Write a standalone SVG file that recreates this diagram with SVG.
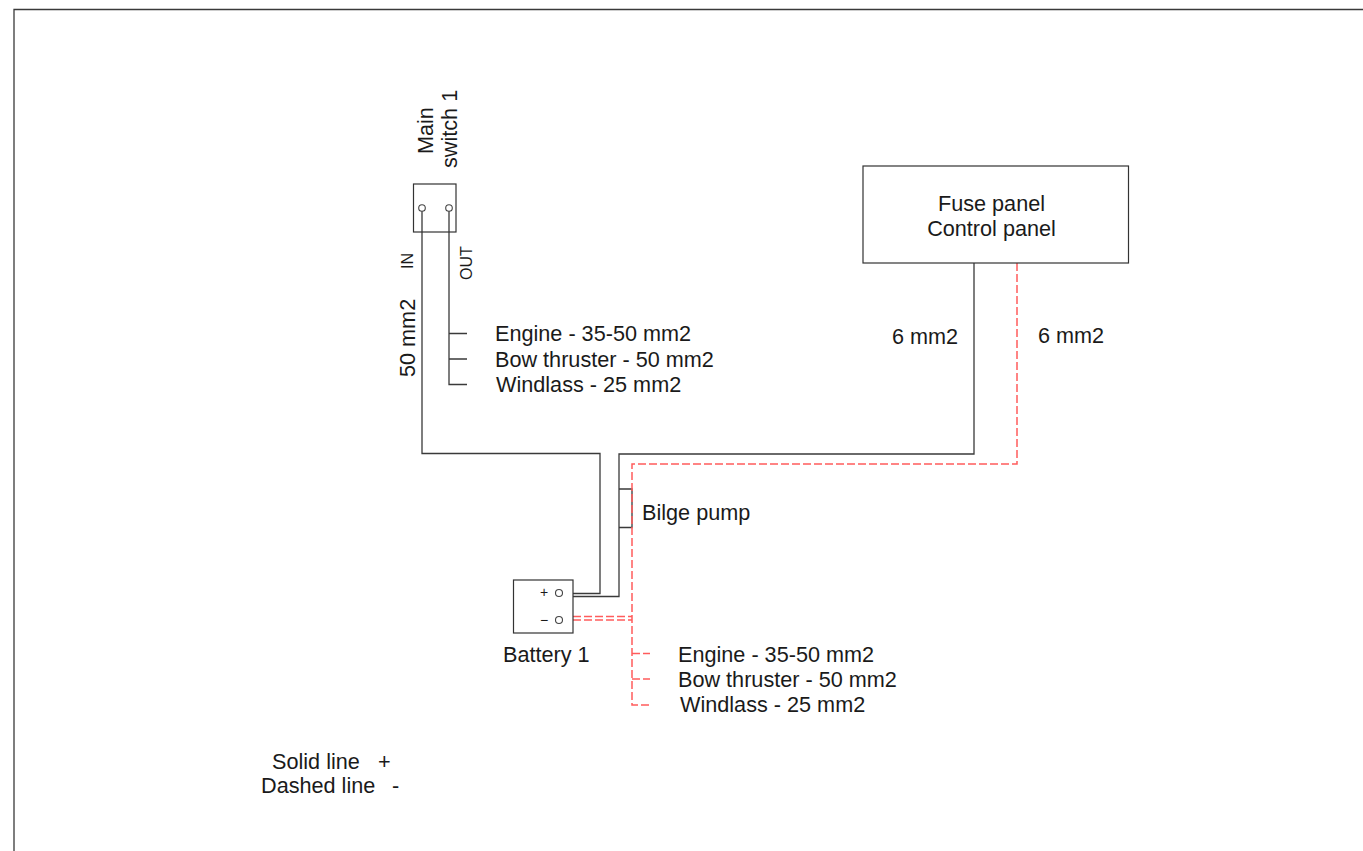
<svg xmlns="http://www.w3.org/2000/svg" width="1363" height="851" viewBox="0 0 1363 851">
<style>
text{font-family:"Liberation Sans",Arial,sans-serif;font-size:21.65px;fill:#1a1a1a}
.s{font-size:16px}
.p{font-size:14px}
.b{fill:none;stroke:#333;stroke-width:1.2}
.c{fill:#fff;stroke:#444;stroke-width:1.1}
.w{fill:none;stroke:#3a3a3a;stroke-width:1.3}
.r{fill:none;stroke:#ff5c5c;stroke-width:1.5;stroke-dasharray:8 3}
</style>
<rect width="1363" height="851" fill="#fff"/>
<path class="w" d="M14 851V9.5H1363"/>
<g id="connectors">
<path class="w" d="M422 211V453.500H600V593.500H573"/>
<path class="w" d="M449 211V384.500H467M449 333.500H467M449 359H467"/>
<path class="w" d="M573 596.500H619V454H974V263"/>
<path class="w" d="M619 489H632V527.500H619"/>
<path class="r" d="M1017 263V464H632V705H650"/>
<path class="r" d="M573 616.500H632M573 620H632M632 653.500H650M632 679H650"/>
</g>
<g id="main-switch">
<rect class="b" x="413.500" y="184" width="42.500" height="48"/>
<circle class="c" cx="422" cy="208" r="3.300"/>
<circle class="c" cx="449" cy="208" r="3.300"/>
<text transform="translate(433 154) rotate(-90)">Main</text>
<text transform="translate(457 168) rotate(-90)">switch 1</text>
<text class="s" transform="translate(413 269) rotate(-90)">IN</text>
<text class="s" transform="translate(472 280) rotate(-90)">OUT</text>
</g>
<g id="fuse-panel">
<rect class="b" x="863" y="166" width="265.500" height="97"/>
<text x="991.500" y="211" text-anchor="middle">Fuse panel</text>
<text x="991.500" y="236" text-anchor="middle">Control panel</text>
</g>
<g id="battery">
<rect class="b" x="513.500" y="580" width="59.500" height="53"/>
<circle class="c" cx="559" cy="593" r="3.500"/>
<circle class="c" cx="559" cy="620" r="3.500"/>
<text class="p" x="544" y="597" text-anchor="middle">+</text>
<text class="p" x="544" y="625" text-anchor="middle">−</text>
<text x="503" y="662">Battery 1</text>
</g>
<g id="labels">
<text transform="translate(415 377) rotate(-90)">50 mm2</text>
<text x="495" y="341">Engine - 35-50 mm2</text>
<text x="495" y="367">Bow thruster - 50 mm2</text>
<text x="496" y="392">Windlass - 25 mm2</text>
<text x="892" y="344">6 mm2</text>
<text x="1038" y="343">6 mm2</text>
<text x="642" y="520">Bilge pump</text>
<text x="678" y="662">Engine - 35-50 mm2</text>
<text x="678" y="687">Bow thruster - 50 mm2</text>
<text x="680" y="712">Windlass - 25 mm2</text>
<text x="272" y="769">Solid line<tspan x="378">+</tspan></text>
<text x="261" y="793">Dashed line<tspan x="392">-</tspan></text>
</g>
</svg>
